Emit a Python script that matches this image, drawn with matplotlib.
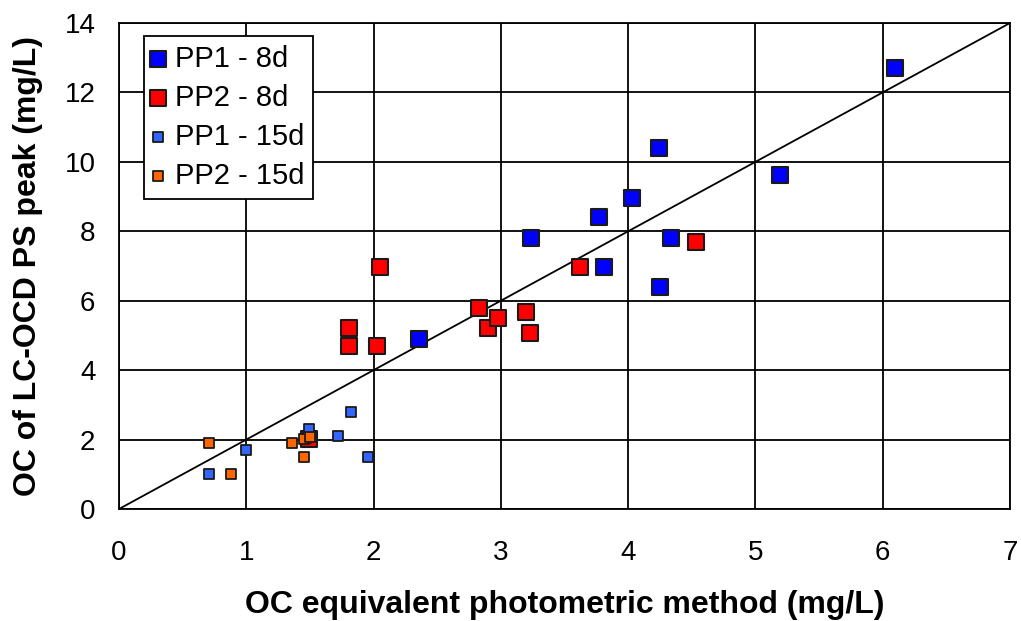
import matplotlib
matplotlib.use("Agg")
import matplotlib.pyplot as plt

plt.rcParams['font.family'] = ['Liberation Sans', 'DejaVu Sans']

# PP1 - 8d
pp1_8d_x = [2.36, 3.24, 3.77, 3.81, 4.03, 4.24, 4.25, 4.34, 5.19, 6.10]
pp1_8d_y = [4.89, 7.80, 8.40, 6.96, 8.97, 10.39, 6.39, 7.80, 9.62, 12.69]

# PP2 - 8d
pp2_8d_x = [1.49, 1.81, 1.81, 2.03, 2.05, 2.83, 2.90, 2.98, 3.20, 3.23, 3.62, 4.53]
pp2_8d_y = [2.01, 5.21, 4.69, 4.69, 6.96, 5.78, 5.21, 5.49, 5.68, 5.08, 6.96, 7.68]

# PP1 - 15d
pp1_15d_x = [0.71, 1.00, 1.47, 1.49, 1.72, 1.82, 1.96]
pp1_15d_y = [1.00, 1.69, 2.05, 2.31, 2.11, 2.79, 1.49]

# PP2 - 15d
pp2_15d_x = [0.71, 0.88, 1.36, 1.45, 1.45, 1.50]
pp2_15d_y = [1.90, 1.00, 1.90, 1.49, 2.01, 2.08]

fig = plt.figure(figsize=(10.21, 6.21), dpi=100)
ax = fig.add_axes([119 / 1021, 1 - 509 / 621, 891 / 1021, 486 / 621])

ax.plot([0, 7], [0, 14], color="black", linewidth=1.3, zorder=2)

edge = "#1a1a1a"
ax.scatter(pp1_8d_x, pp1_8d_y, marker="s", s=135, facecolor="#0000ff",
           edgecolor=edge, linewidth=1.5, label="PP1 - 8d", zorder=3)
ax.scatter(pp2_8d_x, pp2_8d_y, marker="s", s=135, facecolor="#ff0000",
           edgecolor=edge, linewidth=1.5, label="PP2 - 8d", zorder=3)
ax.scatter(pp1_15d_x, pp1_15d_y, marker="s", s=52, facecolor="#3366ff",
           edgecolor=edge, linewidth=1.3, label="PP1 - 15d", zorder=4)
ax.scatter(pp2_15d_x, pp2_15d_y, marker="s", s=52, facecolor="#ff6600",
           edgecolor=edge, linewidth=1.3, label="PP2 - 15d", zorder=4)

ax.set_xlim(0, 7)
ax.set_ylim(0, 14)
ax.set_xticks(range(0, 8))
ax.set_yticks(range(0, 15, 2))
ax.grid(True, color="black", linewidth=1.3)
ax.set_axisbelow(True)
ax.tick_params(length=0, labelsize=20)
ax.tick_params(axis="x", pad=22)
ax.tick_params(axis="y", pad=17)
for s in ax.spines.values():
    s.set_linewidth(1.3)

ax.set_xlabel("OC equivalent photometric method (mg/L)", fontsize=23,
              fontweight="bold")
ax.set_ylabel("OC of LC-OCD PS peak (mg/L)", fontsize=23,
              fontweight="bold")
ax.xaxis.set_label_coords(0.5, -0.166)
ax.yaxis.set_label_coords(-0.085, 0.5)

leg = ax.legend(loc="upper left", bbox_to_anchor=(0.028, 0.973),
                borderaxespad=0, fontsize=21, frameon=True, fancybox=False,
                edgecolor="black", framealpha=1, handletextpad=0.4,
                borderpad=0.3, labelspacing=0.38, handlelength=0.36,
                handleheight=0.7)
leg.get_frame().set_linewidth(1.3)

fig.savefig("out.png", dpi=100)
